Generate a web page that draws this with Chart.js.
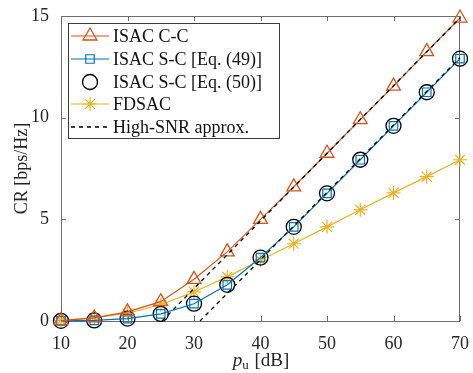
<!DOCTYPE html>
<html>
<head>
<meta charset="utf-8">
<script src="https://cdn.jsdelivr.net/npm/chart.js@4.4.1/dist/chart.umd.min.js"></script>
<style>
  html, body { margin: 0; padding: 0; background: #fff; }
  #wrap { width: 473px; height: 373px; }
</style>
</head>
<body>
<div id="wrap"><canvas id="crChart" width="473" height="373"></canvas></div>
<script>
// power axis (dB)
const pu = [10, 15, 20, 25, 30, 35, 40, 45, 50, 55, 60, 65, 70];

const ccRate    = [0.02, 0.15, 0.45, 0.95, 2.05, 3.4, 5.0, 6.6, 8.25, 9.9, 11.55, 13.25, 14.9];
const scEq49    = [0.01, 0.03, 0.12, 0.35, 0.85, 1.78, 3.12, 4.63, 6.28, 7.93, 9.6, 11.25, 12.9];
const scEq50    = [0.01, 0.03, 0.12, 0.35, 0.85, 1.78, 3.12, 4.63, 6.28, 7.93, 9.6, 11.25, 12.9];
const fdsacRate = [0.03, 0.15, 0.38, 0.8, 1.43, 2.17, 3.0, 3.8, 4.63, 5.47, 6.3, 7.1, 7.93];

// high-SNR asymptotes (straight lines in dB)
const ccApproxX = [25.2, 70];
const ccApproxY = [0, 14.9];
const scApproxX = [30.9, 70];
const scApproxY = [0, 12.95];

const xTicks = [10, 20, 30, 40, 50, 60, 70];
const yTicks = [0, 5, 10, 15];

const legendLabels = ['ISAC C-C', 'ISAC S-C [Eq. (49)]', 'ISAC S-C [Eq. (50)]', 'FDSAC', 'High-SNR approx.'];

const toPts = (xs, ys) => xs.map((x, i) => ({ x: x, y: ys[i] }));

const FONT = '"Liberation Serif", "Times New Roman", serif';
const AXIS_COLOR = '#6e6e6e';

// box + inward ticks go under the data
const box = {
    id: 'box',
    beforeDatasetsDraw(chart) {
        const ctx = chart.ctx;
        const a = chart.chartArea;
        const xs = chart.scales.x, ys = chart.scales.y;
        ctx.save();
        ctx.strokeStyle = AXIS_COLOR;
        ctx.lineWidth = 1;
        ctx.strokeRect(a.left + 0.5, a.top + 0.5, a.right - a.left - 1, a.bottom - a.top);
        ctx.beginPath();
        xTicks.forEach(v => {
            const px = Math.round(xs.getPixelForValue(v)) + 0.5;
            ctx.moveTo(px, a.bottom); ctx.lineTo(px, a.bottom - 5);
            ctx.moveTo(px, a.top); ctx.lineTo(px, a.top + 5);
        });
        yTicks.forEach(v => {
            const py = Math.round(ys.getPixelForValue(v)) + 0.5;
            ctx.moveTo(a.left, py); ctx.lineTo(a.left + 5, py);
            ctx.moveTo(a.right, py); ctx.lineTo(a.right - 5, py);
        });
        ctx.stroke();
        ctx.restore();
    }
};

// axis titles and the legend box inside the plot
const decor = {
    id: 'decor',
    afterDraw(chart) {
        const ctx = chart.ctx;
        const a = chart.chartArea;
        ctx.save();

        // x title: italic p with subscript u
        ctx.fillStyle = '#262626';
        ctx.textBaseline = 'alphabetic';
        const cx = (a.left + a.right) / 2;
        const base = 366;
        ctx.font = 'italic 19px ' + FONT;
        const wP = ctx.measureText('p').width;
        ctx.font = '13px ' + FONT;
        const wU = ctx.measureText('u').width;
        ctx.font = '19px ' + FONT;
        const wRest = ctx.measureText(' [dB]').width;
        const x0 = cx - (wP + wU + wRest) / 2;
        ctx.font = 'italic 19px ' + FONT;
        ctx.fillText('p', x0, base);
        ctx.font = '13px ' + FONT;
        ctx.fillText('u', x0 + wP, base + 3);
        ctx.font = '19px ' + FONT;
        ctx.fillText(' [dB]', x0 + wP + wU + 1, base);

        // y title
        ctx.save();
        ctx.translate(22, (a.top + a.bottom) / 2);
        ctx.rotate(-Math.PI / 2);
        ctx.textAlign = 'center';
        ctx.textBaseline = 'middle';
        ctx.font = '18px ' + FONT;
        ctx.fillText('CR [bps/Hz]', 0, 0);
        ctx.restore();

        // legend
        const lx = a.left + 7, ly = a.top + 7, lw = 211, lh = 115;
        ctx.fillStyle = '#fff';
        ctx.fillRect(lx, ly, lw, lh);
        ctx.strokeStyle = '#3a3a3a';
        ctx.lineWidth = 1;
        ctx.strokeRect(lx + 0.5, ly + 0.5, lw, lh);
        const rowY = [13, 36, 59, 81, 104];
        const order = [2, 3, 4, 5, 0];
        order.forEach((di, i) => {
            const ds = chart.data.datasets[di];
            const y = ly + rowY[i];
            if (ds.showLine !== false) {
                ctx.save();
                ctx.strokeStyle = ds.borderColor;
                ctx.lineWidth = ds.borderWidth;
                ctx.setLineDash(ds.borderDash || []);
                ctx.beginPath();
                ctx.moveTo(lx + 3, y); ctx.lineTo(lx + 41, y);
                ctx.stroke();
                ctx.restore();
            }
            if (ds.pointRadius > 0) {
                ctx.save();
                ctx.strokeStyle = ds.pointBorderColor;
                ctx.fillStyle = 'rgba(0,0,0,0)';
                ctx.lineWidth = ds.pointBorderWidth;
                Chart.helpers.drawPoint(ctx, {
                    pointStyle: ds.pointStyle,
                    radius: ds.pointRadius,
                    rotation: 0,
                    borderWidth: ds.pointBorderWidth
                }, lx + 22, y);
                ctx.restore();
            }
            ctx.fillStyle = '#111';
            ctx.font = '18px ' + FONT;
            ctx.textAlign = 'left';
            ctx.textBaseline = 'middle';
            ctx.fillText(legendLabels[i], lx + 45, y + 1);
        });
        ctx.restore();
    }
};

const ctx = document.getElementById('crChart').getContext('2d');
new Chart(ctx, {
    type: 'scatter',
    data: {
        datasets: [
            {
                label: 'High-SNR approx. (C-C)',
                data: toPts(ccApproxX, ccApproxY),
                showLine: true, borderColor: '#000', borderWidth: 1.3, borderDash: [4, 4],
                pointRadius: 0
            },
            {
                label: 'High-SNR approx. (S-C)',
                data: toPts(scApproxX, scApproxY),
                showLine: true, borderColor: '#000', borderWidth: 1.3, borderDash: [4, 4],
                pointRadius: 0
            },
            {
                label: 'ISAC C-C',
                data: toPts(pu, ccRate),
                showLine: true, borderColor: '#D95319', borderWidth: 1.2,
                pointStyle: 'triangle', pointRadius: 8, pointBorderColor: '#D95319',
                pointBackgroundColor: 'rgba(0,0,0,0)', pointBorderWidth: 1.3
            },
            {
                label: 'ISAC S-C [Eq. (49)]',
                data: toPts(pu, scEq49),
                showLine: true, borderColor: '#0072BD', borderWidth: 1.2,
                pointStyle: 'rect', pointRadius: 6, pointBorderColor: '#0072BD',
                pointBackgroundColor: 'rgba(0,0,0,0)', pointBorderWidth: 1.2
            },
            {
                label: 'ISAC S-C [Eq. (50)]',
                data: toPts(pu, scEq50),
                showLine: false,
                pointStyle: 'circle', pointRadius: 7.5, pointBorderColor: '#000',
                borderColor: '#000',
                pointBackgroundColor: 'rgba(0,0,0,0)', pointBorderWidth: 1.3
            },
            {
                label: 'FDSAC',
                data: toPts(pu, fdsacRate),
                showLine: true, borderColor: '#EDB120', borderWidth: 1.2,
                pointStyle: 'star', pointRadius: 7, pointBorderColor: '#EDB120',
                pointBackgroundColor: 'rgba(0,0,0,0)', pointBorderWidth: 1.2
            }
        ]
    },
    options: {
        responsive: false,
        animation: false,
        layout: { padding: { left: 0, top: 16, right: 11, bottom: 0 } },
        datasets: { scatter: { clip: false } },
        plugins: { legend: { display: false }, tooltip: { enabled: false } },
        scales: {
            x: {
                type: 'linear', min: 10, max: 70,
                afterFit: s => { s.height = 52; },
                afterBuildTicks: s => { s.ticks = xTicks.map(v => ({ value: v })); },
                grid: { display: false },
                border: { display: false },
                ticks: { color: '#262626', font: { family: FONT, size: 18 }, padding: 4, maxRotation: 0 }
            },
            y: {
                type: 'linear', min: 0, max: 15,
                afterFit: s => { s.width = 61; },
                afterBuildTicks: s => { s.ticks = yTicks.map(v => ({ value: v })); },
                grid: { display: false },
                border: { display: false },
                ticks: { color: '#262626', font: { family: FONT, size: 18 }, padding: 4 }
            }
        }
    },
    plugins: [box, decor]
});
</script>
</body>
</html>
